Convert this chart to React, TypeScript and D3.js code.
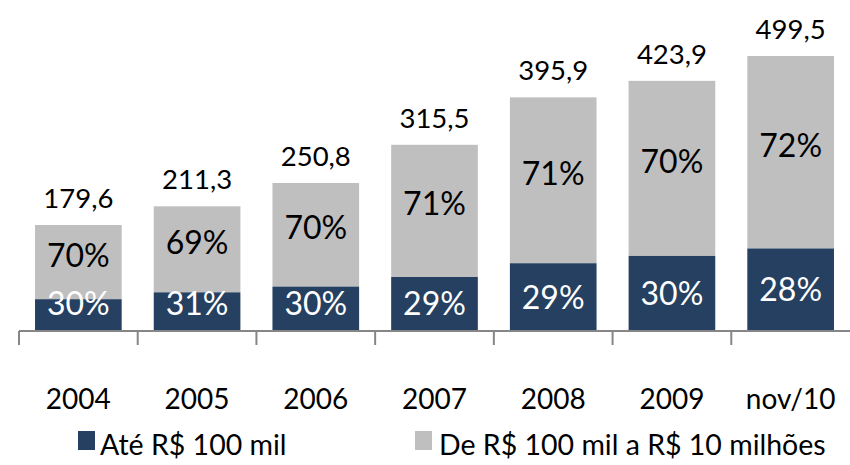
import React from "react";
import * as d3 from "d3";

const categories = ["2004", "2005", "2006", "2007", "2008", "2009", "nov/10"];
const totals = [179.6, 211.3, 250.8, 315.5, 395.9, 423.9, 499.5];
const pctSmall = [30, 31, 30, 29, 29, 30, 28];
const pctLarge = [70, 69, 70, 71, 71, 70, 72];
const seriesNames = ["Até R$ 100 mil", "De R$ 100 mil a R$ 10 milhões"];
const colors = ["#254061", "#bfbfbf"];

const width = 850;
const height = 465;
const axisY = 331;
const font = "Lato, 'Noto Sans', sans-serif";

export default function App() {
    const x = d3.scaleBand<string>()
        .domain(categories)
        .range([19, 850])
        .paddingInner(0.27)
        .paddingOuter(0.135);

    // chart ceiling cuts the tallest bar, like the original
    const y = d3.scaleLinear().domain([0, 466]).range([axisY, 56]).clamp(true);

    const step = x.step();
    const fmt = (v: number) => v.toFixed(1).replace(".", ",");

    return (
        <svg width={width} height={height} style={{ position: "absolute", left: 0, top: 0 }}>
            <rect width={width} height={height} fill="#fff" />
            {categories.map((c, i) => {
                const x0 = x(c)!;
                const bw = x.bandwidth();
                const cx = x0 + bw / 2;
                const top = y(totals[i]);
                const mid = y((totals[i] * pctSmall[i]) / 100);
                const darkCenter = Math.min((mid + axisY) / 2, axisY - 28);
                const grayCenter = (top + mid) / 2 - 7;
                return (
                    <g key={c}>
                        <rect x={x0} y={top} width={bw} height={mid - top} fill={colors[1]} />
                        <rect x={x0} y={mid} width={bw} height={axisY - mid} fill={colors[0]} />
                        <text x={cx} y={grayCenter} dy="0.36em" textAnchor="middle"
                            fontFamily={font} fontSize={32} fill="#000">{pctLarge[i]}%</text>
                        <text x={cx} y={darkCenter} dy="0.36em" textAnchor="middle"
                            fontFamily={font} fontSize={32} fill="#fff">{pctSmall[i]}%</text>
                        <text x={cx} y={top - 17} textAnchor="middle"
                            fontFamily={font} fontSize={27.5} fill="#000">{fmt(totals[i])}</text>
                        <text x={x0 + bw / 2} y={409} textAnchor="middle"
                            fontFamily={font} fontSize={28} fill="#000">{c}</text>
                    </g>
                );
            })}
            <line x1={19} x2={850} y1={axisY} y2={axisY} stroke="#868686" strokeWidth={2} />
            {categories.map((c) => {
                const tx = x(c)! - (step * x.paddingInner()) / 2;
                return <line key={"t" + c} x1={tx} x2={tx} y1={axisY} y2={345} stroke="#868686" strokeWidth={2} />;
            })}
            <g fontFamily={font} fontSize={28.5}>
                <rect x={78} y={431} width={17} height={19} fill={colors[0]} />
                <text x={100} y={455}>{seriesNames[0]}</text>
                <rect x={415} y={431} width={17} height={19} fill={colors[1]} />
                <text x={439} y={455}>{seriesNames[1]}</text>
            </g>
        </svg>
    );
}
